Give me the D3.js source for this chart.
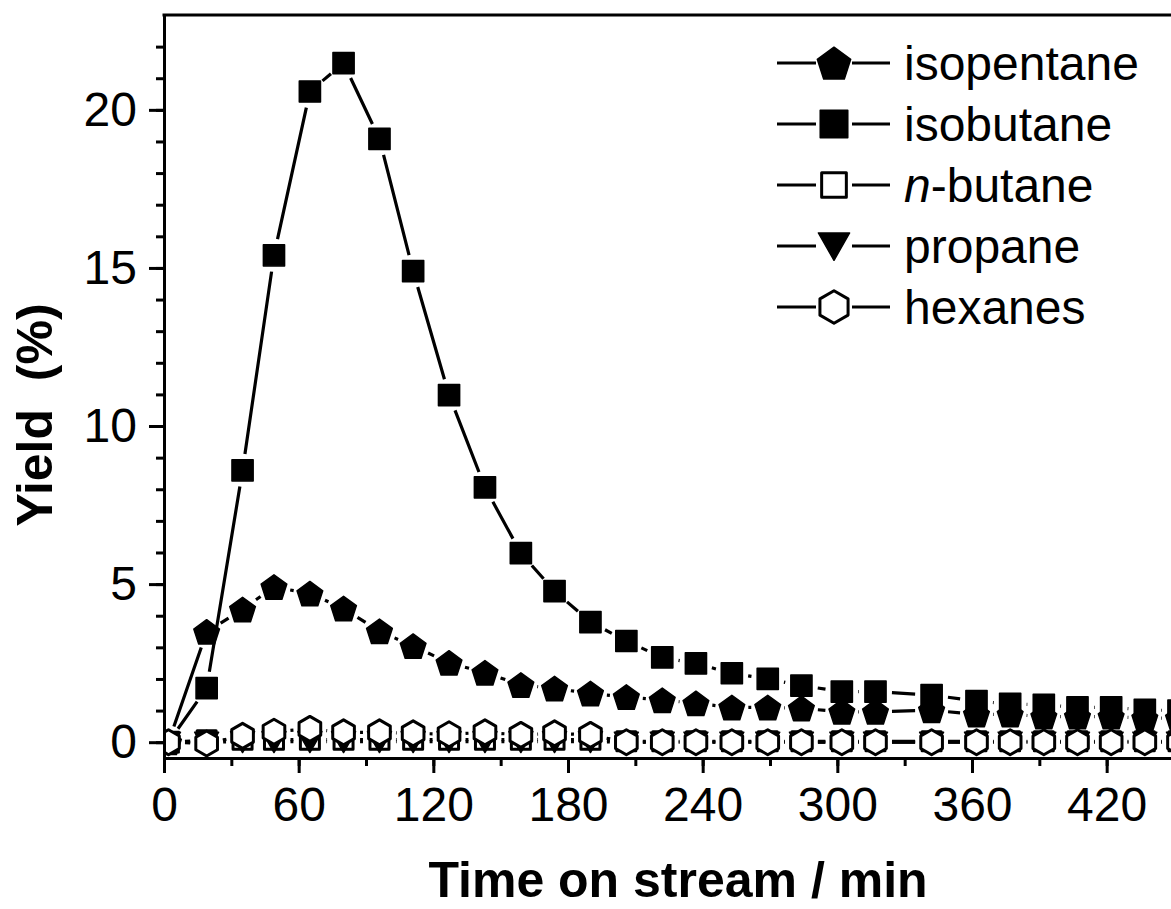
<!DOCTYPE html>
<html><head><meta charset="utf-8">
<script src="https://cdn.jsdelivr.net/npm/d3@7"></script>
<style>body{margin:0;background:#fff}svg{display:block}</style>
</head><body>
<svg id="c" width="1171" height="909"></svg>
<script>
// ---- data ----
const times      = [2,19,35,49,65,80,96,111,127,143,159,174,190,206,222,237,253,269,284,302,317,342,362,377,392,407,422,437,452];
const isopentane = [0,3.49,4.2,4.91,4.7,4.23,3.51,3.04,2.51,2.2,1.81,1.7,1.54,1.43,1.33,1.23,1.1,1.1,1.07,0.96,0.96,1.01,0.88,0.88,0.81,0.81,0.81,0.76,0.76];
const isobutane  = [0,1.71,8.6,15.4,20.58,21.48,19.08,14.9,10.98,8.06,5.98,4.78,3.8,3.2,2.68,2.49,2.18,2.0,1.79,1.6,1.6,1.49,1.3,1.21,1.18,1.1,1.1,1.02,1.0];
const nButane    = [0,0.06,0.08,0.08,0.08,0.08,0.08,0.08,0.08,0.08,0.08,0.08,0.08,0.03,0.03,0.03,0.03,0.03,0.03,0.03,0.03,0.03,0.03,0.03,0.03,0.03,0.03,0.03,0.03];
const propane    = [0,0,0.02,0.02,0.02,0.02,0.02,0.02,0.02,0.02,0.02,0.02,0.02,0,0,0,0,0,0,0,0,0,0,0,0,0,0,0,0];
const hexanes    = [0,-0.04,0.2,0.33,0.42,0.31,0.31,0.28,0.25,0.31,0.23,0.28,0.23,0,0,0,0,0,0,0,0,0,0,0,0,0,0,0,0];
const seriesNames = ["isopentane","isobutane","n-butane","propane","hexanes"];
const xTickLabels = [0,60,120,180,240,300,360,420];
const yTickLabels = [0,5,10,15,20];

// ---- layout ----
const L = 164, R = 1174, T = 15, B = 758;
const FONT = "'Liberation Sans', Arial, Helvetica, sans-serif";
const svg = d3.select("#c");
const x = d3.scaleLinear().domain([0, 450]).range([L, R]);
const y = d3.scaleLinear().domain([-0.5, 23]).range([B, T]);

// ---- symbol shapes (relative to centre) ----
function poly(pts){ return "M" + pts.map(p => p[0].toFixed(2)+","+p[1].toFixed(2)).join("L") + "Z"; }
function pentagon(r){ const p=[]; for(let k=0;k<5;k++){const a=-Math.PI/2+k*2*Math.PI/5; p.push([r*Math.cos(a), r*Math.sin(a)+r*0.1]);} return poly(p); }
function hexagon(r){ const p=[]; for(let k=0;k<6;k++){const a=-Math.PI/2+k*Math.PI/3; p.push([r*Math.cos(a), r*Math.sin(a)]);} return poly(p); }
function square(h){ return poly([[-h,-h],[h,-h],[h,h],[-h,h]]); }
function triDown(s){ return poly([[-12*s,-10*s],[12*s,-10*s],[0,11*s]]); }

const series = [
  {name:seriesNames[0], vals:isopentane, path:s=>pentagon(13.5*s), fill:"#000", sw:1.5},
  {name:seriesNames[1], vals:isobutane,  path:s=>square(10.6*s),   fill:"#000", sw:1.5},
  {name:seriesNames[2], vals:nButane,    path:s=>square(9.5*s),    fill:"#fff", sw:3},
  {name:seriesNames[3], vals:propane,    path:s=>triDown(s),       fill:"#000", sw:1.5},
  {name:seriesNames[4], vals:hexanes,    path:s=>hexagon(12.5*s),  fill:"#fff", sw:3}
];

// ---- clip ----
svg.append("defs").append("clipPath").attr("id","plotclip")
  .append("rect").attr("x",L).attr("y",T).attr("width",R-L).attr("height",B-T);

const plot = svg.append("g").attr("clip-path","url(#plotclip)");
const GAP = 16.5;

series.forEach(s => {
  const pts = times.map((t,i) => [x(t), y(s.vals[i])]);
  const segs = [];
  for (let i=0;i<pts.length-1;i++){
    const [x0,y0]=pts[i],[x1,y1]=pts[i+1];
    const dx=x1-x0, dy=y1-y0, len=Math.hypot(dx,dy);
    if (len <= 2*GAP) continue;
    const ux=dx/len, uy=dy/len;
    segs.push("M"+(x0+ux*GAP)+","+(y0+uy*GAP)+"L"+(x1-ux*GAP)+","+(y1-uy*GAP));
  }
  plot.append("path").attr("d",segs.join("")).attr("fill","none")
    .attr("stroke","#000").attr("stroke-width",3.2);
  plot.selectAll(null).data(pts).enter().append("path")
    .attr("d", s.path(1))
    .attr("transform", d => `translate(${d[0]},${d[1]})`)
    .attr("fill", s.fill).attr("stroke","#000").attr("stroke-width", s.sw)
    .attr("stroke-linejoin","round");
});

// ---- axes ----
function styleAxis(g){
  g.selectAll("path.domain").attr("stroke","#000").attr("stroke-width",3).attr("stroke-linecap","square");
  g.selectAll(".tick line").attr("stroke","#000").attr("stroke-width",3);
  g.selectAll("text").attr("font-family",FONT).attr("font-size",48).attr("fill","#000");
}
svg.append("g").attr("transform",`translate(${L},0)`)
  .call(d3.axisLeft(y).tickValues(d3.range(0,23,1)).tickSize(8).tickSizeOuter(0).tickFormat(""))
  .call(styleAxis);
svg.append("g").attr("transform",`translate(${L},0)`)
  .call(d3.axisLeft(y).tickValues(yTickLabels).tickSize(15).tickSizeOuter(0).tickPadding(12).tickFormat(d3.format("d")))
  .call(styleAxis);
svg.append("g").attr("transform",`translate(0,${B})`)
  .call(d3.axisBottom(x).tickValues(d3.range(0,451,30)).tickSize(8).tickSizeOuter(0).tickFormat(""))
  .call(styleAxis);
svg.append("g").attr("transform",`translate(0,${B})`)
  .call(d3.axisBottom(x).tickValues(xTickLabels).tickSize(15).tickSizeOuter(0).tickPadding(14).tickFormat(d3.format("d")))
  .call(styleAxis);
svg.append("line").attr("x1",L).attr("x2",R).attr("y1",T).attr("y2",T)
  .attr("stroke","#000").attr("stroke-width",3).attr("stroke-linecap","square");

// ---- axis titles ----
svg.append("text").attr("x",678).attr("y",897).attr("text-anchor","middle")
  .attr("font-family",FONT).attr("font-weight","bold").attr("font-size",50)
  .text("Time on stream / min");
svg.append("text").attr("transform","translate(52,415) rotate(-90)").attr("text-anchor","middle")
  .attr("font-family",FONT).attr("font-weight","bold").attr("font-size",50)
  .style("white-space","pre").text("Yield  (%)");

// ---- legend ----
const leg = svg.append("g");
series.forEach((s,i) => {
  const cy = 63 + i*61, cx = 834;
  const g = leg.append("g");
  g.append("line").attr("x1",777).attr("x2",cx-18).attr("y1",cy).attr("y2",cy).attr("stroke","#000").attr("stroke-width",3.2);
  g.append("line").attr("x1",cx+18).attr("x2",890).attr("y1",cy).attr("y2",cy).attr("stroke","#000").attr("stroke-width",3.2);
  g.append("path").attr("d", s.path(1.3)).attr("transform",`translate(${cx},${cy})`)
    .attr("fill", s.fill).attr("stroke","#000").attr("stroke-width", s.sw).attr("stroke-linejoin","round");
  const t = g.append("text").attr("x",904).attr("y",cy+17)
    .attr("font-family",FONT).attr("font-size",48).attr("fill","#000");
  if (s.name === "n-butane") {
    t.append("tspan").attr("font-style","italic").text("n");
    t.append("tspan").text("-butane");
  } else t.text(s.name);
});
</script>
</body></html>
